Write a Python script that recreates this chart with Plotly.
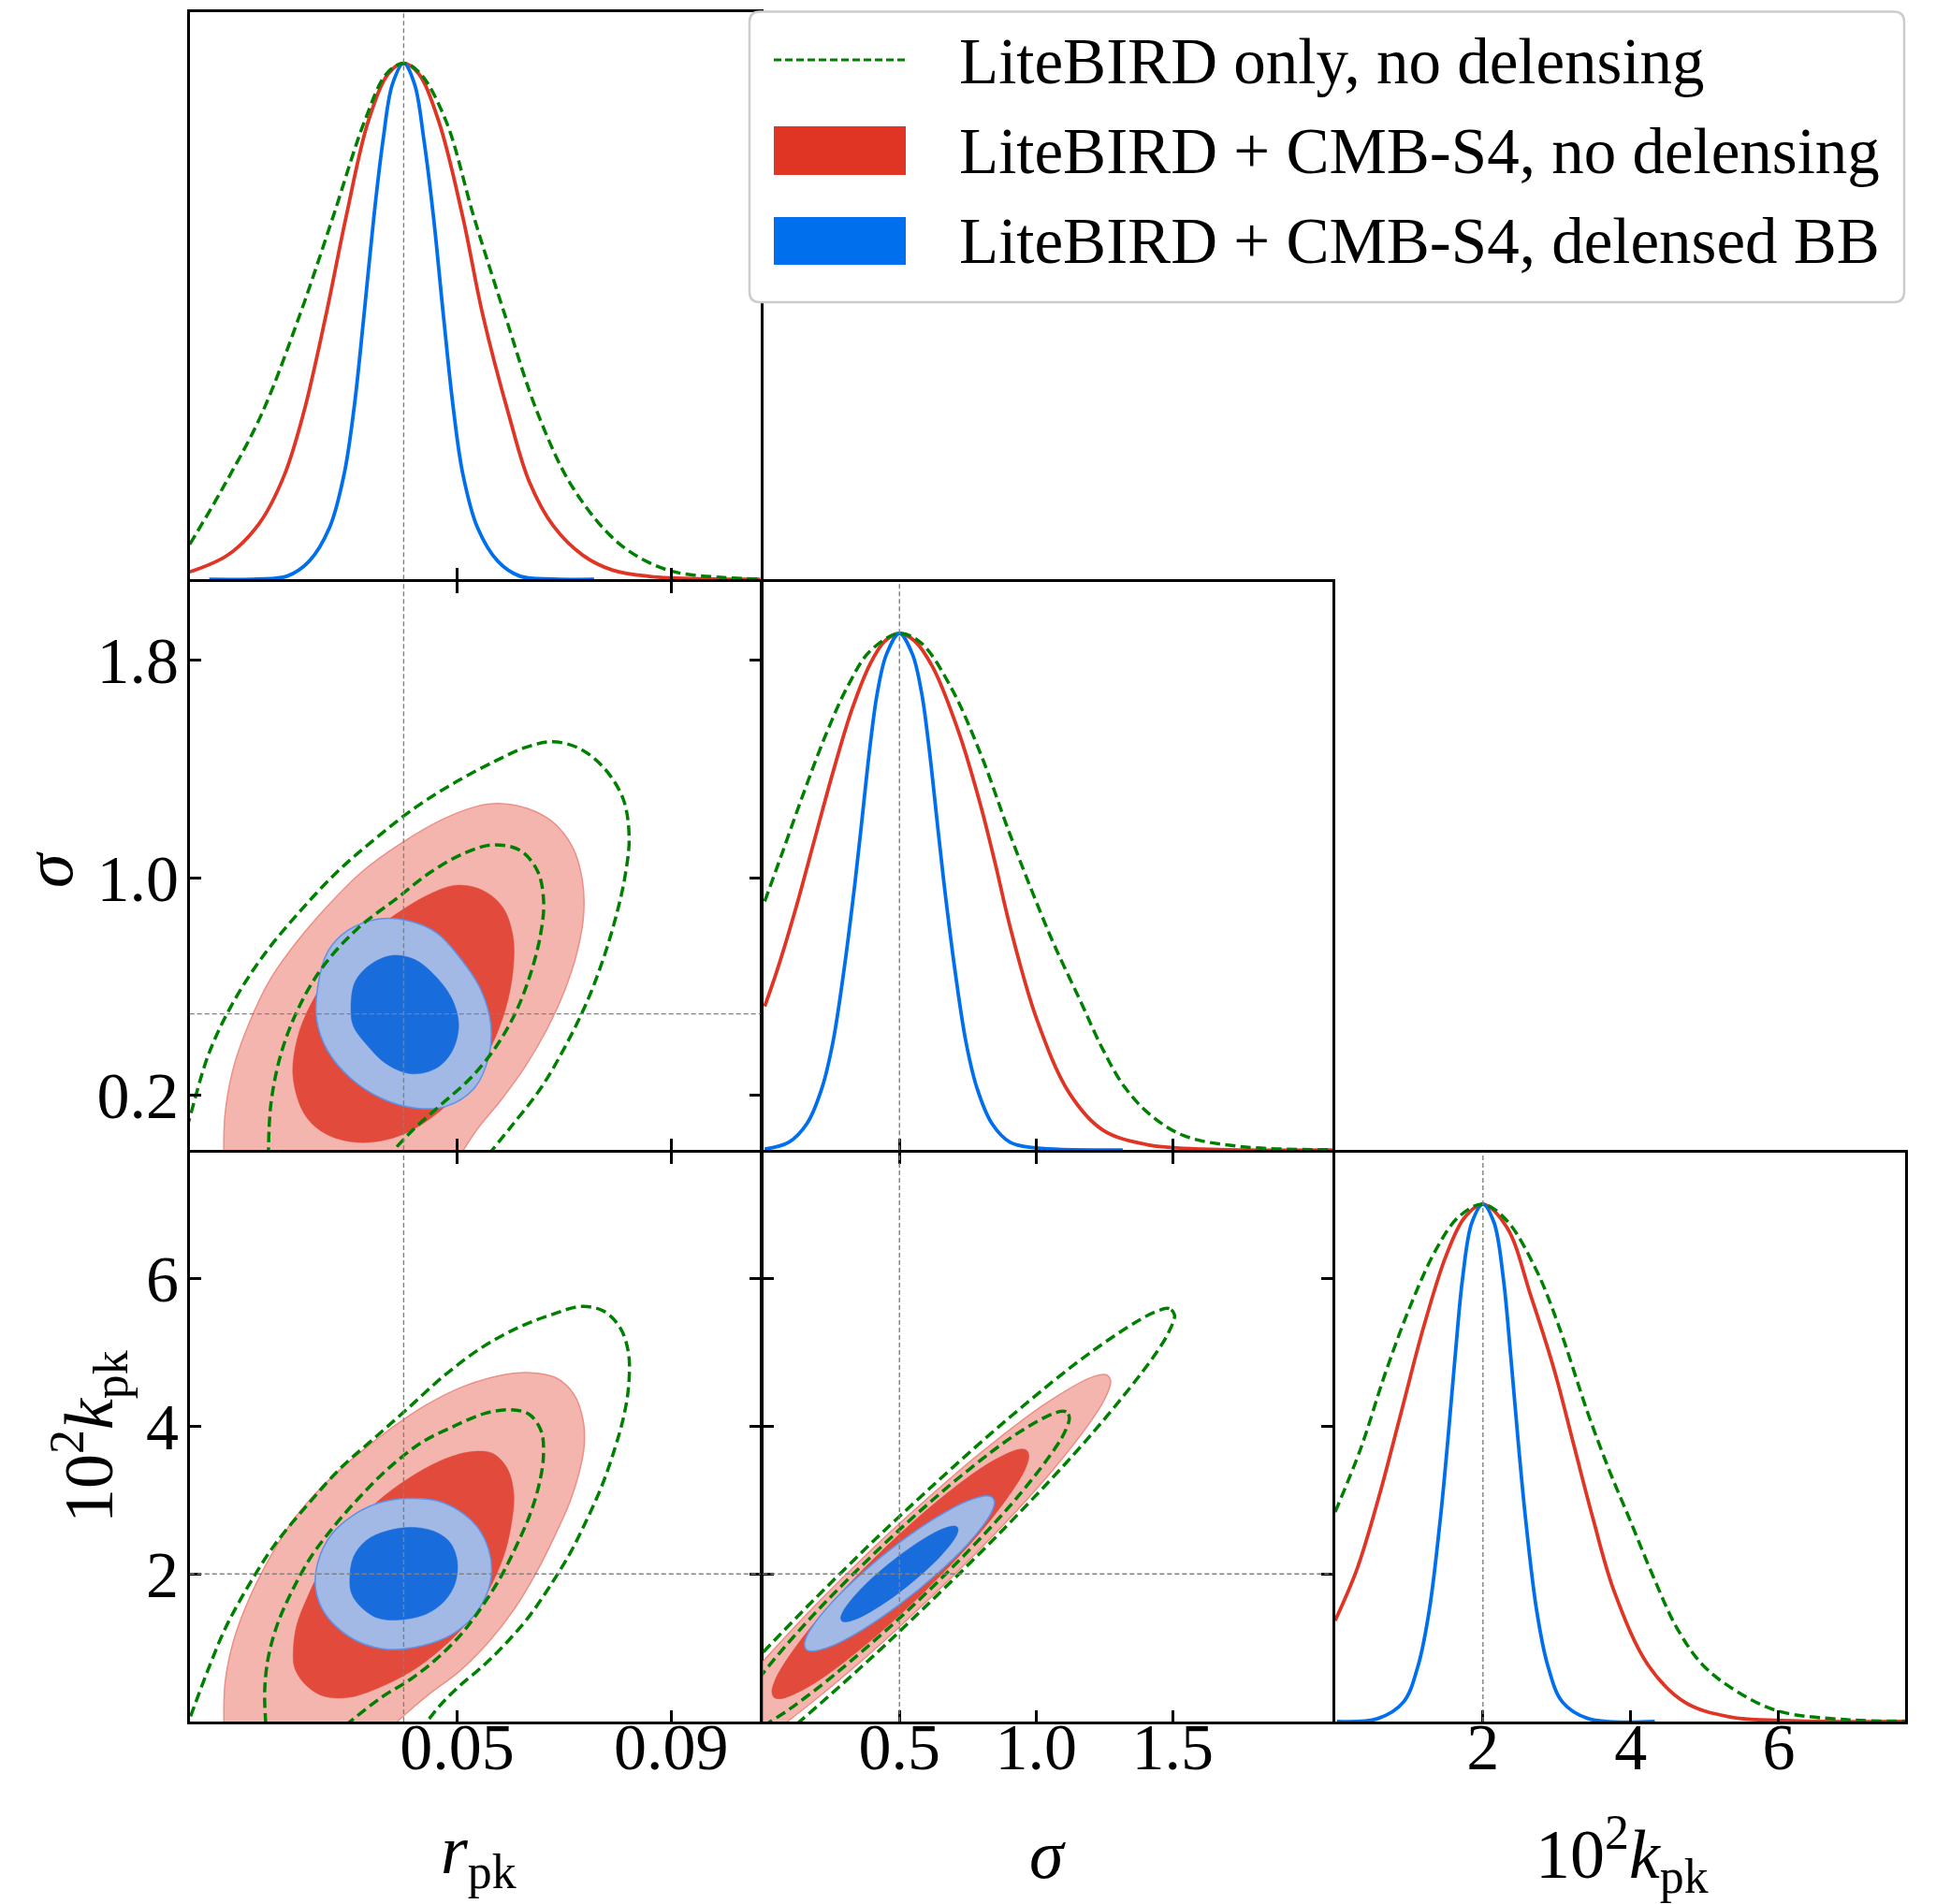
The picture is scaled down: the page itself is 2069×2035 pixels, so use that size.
import plotly.graph_objects as go

PAGE_W, PAGE_H = 2069, 2035
OFF = 8  # default body margin of the html page
W, H = PAGE_W - OFF, PAGE_H - OFF
FONT = "Liberation Serif"

# ---------------- data ----------------
LABEL_GREEN = "LiteBIRD only, no delensing"
LABEL_RED = "LiteBIRD + CMB-S4, no delensing"
LABEL_BLUE = "LiteBIRD + CMB-S4, delensed BB"

LABEL_R = "<i>r</i><sub>pk</sub>"
LABEL_SIGMA = "<i>σ</i>"
LABEL_K = "10<sup>2</sup><i>k</i><sub>pk</sub>"

FIDUCIAL_R = 0.04
FIDUCIAL_SIGMA = 0.5
FIDUCIAL_K = 2.0

R_RANGE = [0.0, 0.1067]
SIGMA_RANGE = [0.0, 2.086]
K_RANGE = [0.0, 7.71]
PDF_RANGE = [0.0, 1.1]

R_TICKS = [0.05, 0.09]
R_TICK_TEXT = ["0.05", "0.09"]
SIGMA_X_TICKS = [0.5, 1.0, 1.5]
SIGMA_X_TICK_TEXT = ["0.5", "1.0", "1.5"]
SIGMA_Y_TICKS = [0.2, 1.0, 1.8]
SIGMA_Y_TICK_TEXT = ["0.2", "1.0", "1.8"]
K_TICKS = [2, 4, 6]
K_TICK_TEXT = ["2", "4", "6"]

# ---- 1D marginals (normalised to peak 1) ----
R_BLUE_X = [0.00364, 0.0125, 0.01817, 0.02232, 0.02613, 0.02889, 0.03076, 0.03256, 0.03443, 0.03616, 0.03789, 0.04,
            0.04204, 0.04377, 0.04557, 0.04744, 0.04924, 0.05104, 0.05381, 0.05761, 0.06176, 0.068, 0.0756]
R_BLUE_Y = [0.0, 0.0006, 0.006, 0.035, 0.1, 0.205, 0.335, 0.51, 0.7026, 0.8524, 0.9593, 1.0,
            0.9593, 0.8524, 0.7026, 0.51, 0.335, 0.205, 0.1, 0.035, 0.006, 0.0006, 0.0]
R_RED_X = [0.0, 0.0071, 0.01298, 0.01761, 0.02128, 0.02543, 0.02924, 0.03339, 0.0372, 0.04, 0.04273, 0.04654,
           0.05104, 0.05484, 0.05969, 0.06349, 0.06799, 0.07353, 0.07906, 0.08598, 0.09636, 0.1067]
R_RED_Y = [0.0143, 0.047, 0.108, 0.2, 0.322, 0.51, 0.7026, 0.888, 0.9807, 1.0, 0.9807, 0.888,
           0.7026, 0.51, 0.3174, 0.189, 0.1034, 0.0464, 0.0178, 0.0057, 0.0007, 0.0]
R_GREEN_X = [0.0, 0.00606, 0.01332, 0.0205, 0.0268, 0.0327, 0.03685, 0.04, 0.04308, 0.04792, 0.05311, 0.059,
             0.06522, 0.0718, 0.08045, 0.08944, 0.09982, 0.1067]
R_GREEN_Y = [0.0678, 0.1748, 0.3174, 0.51, 0.7026, 0.888, 0.9807, 1.0, 0.9807, 0.888, 0.7026, 0.51,
             0.3174, 0.1748, 0.0678, 0.0178, 0.0036, 0.0007]

S_BLUE_X = [0.0068, 0.0946, 0.1622, 0.2162, 0.2568, 0.2973, 0.3378, 0.3649, 0.3919, 0.4189, 0.4527, 0.5,
            0.5473, 0.5811, 0.6081, 0.6351, 0.6622, 0.7027, 0.7432, 0.7838, 0.8378, 0.9054, 1.0, 1.3176]
S_BLUE_Y = [0.002, 0.015, 0.052, 0.12, 0.21, 0.35, 0.52, 0.65, 0.78, 0.885, 0.96, 1.0,
            0.96, 0.885, 0.78, 0.65, 0.52, 0.35, 0.21, 0.12, 0.052, 0.015, 0.004, 0.0]
S_RED_X = [0.0067, 0.054, 0.1216, 0.1892, 0.2568, 0.3243, 0.3919, 0.4459, 0.5, 0.5541, 0.6216, 0.7162,
           0.7973, 0.8514, 0.9054, 1.0027, 1.1216, 1.2433, 1.4054, 1.6081, 2.086]
S_RED_Y = [0.2782, 0.3509, 0.47, 0.6013, 0.7318, 0.8502, 0.9401, 0.985, 1.0, 0.986, 0.935, 0.81,
           0.667, 0.553, 0.4315, 0.2532, 0.1106, 0.0392, 0.0107, 0.0021, 0.0]
S_GREEN_X = [0.0067, 0.0676, 0.1486, 0.2297, 0.3108, 0.3919, 0.5, 0.5811, 0.6892, 0.7973, 0.9054, 1.0,
             1.0676, 1.1622, 1.2433, 1.3243, 1.4189, 1.5405, 1.7432, 2.086]
S_GREEN_Y = [0.4815, 0.5704, 0.6903, 0.8031, 0.898, 0.9655, 1.0, 0.9807, 0.8951, 0.7668, 0.6098, 0.4815,
             0.3959, 0.2889, 0.1961, 0.122, 0.068, 0.028, 0.0071, 0.0007]

K_BLUE_X = [0.025, 0.575, 0.925, 1.125, 1.275, 1.425, 1.525, 1.625, 1.725, 1.85, 2.0,
            2.15, 2.275, 2.375, 2.475, 2.575, 2.725, 2.875, 3.075, 3.425, 4.325]
K_BLUE_Y = [0.0, 0.0057, 0.0378, 0.109, 0.216, 0.394, 0.5438, 0.7078, 0.8574, 0.9644, 1.0,
            0.9644, 0.8574, 0.7078, 0.5438, 0.394, 0.216, 0.109, 0.0378, 0.0057, 0.0]
K_RED_X = [0.0, 0.3, 0.6, 0.9, 1.2, 1.5, 1.75, 2.0, 2.325, 2.65, 2.965, 3.225, 3.485, 3.775, 4.235,
           4.725, 5.325, 6.175, 7.71]
K_RED_Y = [0.195, 0.296, 0.438, 0.601, 0.764, 0.9, 0.974, 1.0, 0.955, 0.8218, 0.6793, 0.5367, 0.3942,
           0.2516, 0.109, 0.0378, 0.0093, 0.0014, 0.0]
K_GREEN_X = [0.0, 0.35, 0.675, 1.025, 1.375, 1.675, 2.0, 2.325, 2.725, 3.025, 3.425, 3.725, 3.975, 4.325,
             4.625, 4.975, 5.425, 6.0, 6.925, 7.71]
K_GREEN_Y = [0.4048, 0.529, 0.6716, 0.806, 0.915, 0.976, 1.0, 0.968, 0.8717, 0.7648, 0.5937, 0.4797,
             0.3942, 0.273, 0.1803, 0.109, 0.0592, 0.02, 0.0036, 0.0007]

# ---- 2D contours: r_pk vs sigma ----
RS_GREEN_OUTER_R = [-0.003, -0.0005, 0.00363, 0.00824, 0.01379, 0.02025, 0.02764, 0.03503, 0.04242, 0.04982,
                    0.05721, 0.06275, 0.06783, 0.07291, 0.07753, 0.08104, 0.08215, 0.08141, 0.07984, 0.07753,
                    0.0743, 0.07014, 0.06552, 0.05998, 0.05536]
RS_GREEN_OUTER_S = [-0.081, 0.0837, 0.3569, 0.546, 0.7142, 0.8683, 1.0224, 1.1485, 1.2606, 1.3517,
                    1.4287, 1.4778, 1.4988, 1.4736, 1.4007, 1.2886, 1.1485, 1.0084, 0.8683, 0.7142,
                    0.546, 0.3779, 0.2238, 0.0837, -0.0284]
RS_GREEN_INNER_R = [0.01471, 0.01517, 0.01702, 0.02025, 0.02487, 0.03134, 0.03873, 0.0452, 0.05166, 0.05674,
                    0.06182, 0.06506, 0.06617, 0.06552, 0.06367, 0.0609, 0.05721, 0.05259, 0.04704, 0.0415,
                    0.03688]
RS_GREEN_INNER_S = [-0.0284, 0.1677, 0.3499, 0.518, 0.6721, 0.8123, 0.9243, 1.0224, 1.0925, 1.1205,
                    1.0995, 1.0224, 0.9103, 0.7842, 0.6441, 0.504, 0.3779, 0.2658, 0.1677, 0.0697,
                    -0.0284]
RS_RED_OUTER_R = [0.0064, 0.00658, 0.00806, 0.01102, 0.01517, 0.02025, 0.0258, 0.03226, 0.03965, 0.04704,
                  0.05351, 0.05813, 0.06321, 0.06783, 0.07152, 0.07337, 0.07365, 0.07245, 0.07014, 0.06691,
                  0.06275, 0.05813, 0.05351, 0.04982, 0.048, 0.007]
RS_RED_OUTER_S = [-0.0564, 0.1257, 0.2938, 0.462, 0.6301, 0.7702, 0.8963, 1.0224, 1.1275, 1.2116,
                  1.2606, 1.2718, 1.2536, 1.2046, 1.1135, 0.9944, 0.8683, 0.7282, 0.5881, 0.448,
                  0.3078, 0.1818, 0.0697, -0.0564, -0.3, -0.3]
RS_RED_INNER_R = [0.01933, 0.02007, 0.02256, 0.02672, 0.03226, 0.03873, 0.04473, 0.04982, 0.0549, 0.05859,
                  0.06044, 0.06044, 0.05905, 0.05628, 0.05212, 0.04658, 0.03965, 0.03226, 0.0258, 0.02164,
                  0.01933]
RS_RED_INNER_S = [0.2658, 0.4059, 0.532, 0.6581, 0.7702, 0.8683, 0.9384, 0.972, 0.9524, 0.8893,
                  0.7842, 0.6581, 0.518, 0.3779, 0.2518, 0.1397, 0.0557, 0.0276, 0.0557, 0.1257,
                  0.2658]
RS_BLUE_OUTER_R = [0.02376, 0.02395, 0.0258, 0.02949, 0.03503, 0.04058, 0.04612, 0.05074, 0.05443, 0.05628,
                   0.05582, 0.05305, 0.04797, 0.04242, 0.03596, 0.02995, 0.0258, 0.02376]
RS_BLUE_OUTER_S = [0.476, 0.6021, 0.7282, 0.8052, 0.8473, 0.8431, 0.7982, 0.7002, 0.5881, 0.462,
                   0.3359, 0.2238, 0.1607, 0.1537, 0.1888, 0.2658, 0.3639, 0.476]
RS_BLUE_INNER_R = [0.03014, 0.03088, 0.03365, 0.03781, 0.04196, 0.04566, 0.04889, 0.05028, 0.04908, 0.04612,
                   0.0415, 0.03688, 0.03319, 0.0306, 0.03014]
RS_BLUE_INNER_S = [0.518, 0.6161, 0.6791, 0.7142, 0.7002, 0.6441, 0.5601, 0.462, 0.3639, 0.3008,
                   0.2798, 0.3149, 0.3849, 0.455, 0.518]

# ---- 2D contours: r_pk vs 10^2 k_pk ----
RK_GREEN_OUTER_R = [-0.00086, 0.00018, 0.00329, 0.00675, 0.0109, 0.01575, 0.02197, 0.0282, 0.03443, 0.04066,
                    0.04758, 0.0545, 0.06142, 0.06765, 0.07318, 0.07733, 0.08045, 0.08204, 0.08204, 0.08114,
                    0.07941, 0.07699, 0.07422, 0.07111, 0.0673, 0.06349, 0.05934, 0.05519, 0.05035, 0.04689,
                    0.04412]
RK_GREEN_OUTER_K = [-0.125, 0.0752, 0.6767, 1.2782, 1.8296, 2.381, 2.9323, 3.4336, 3.8346, 4.2356,
                    4.6867, 5.0626, 5.3383, 5.5138, 5.624, 5.5639, 5.3383, 4.9875, 4.5363, 4.1353,
                    3.6842, 3.183, 2.7318, 2.2807, 1.8296, 1.4286, 1.0777, 0.7769, 0.4762, 0.2256,
                    -0.025]
RK_GREEN_INNER_R = [0.01422, 0.01402, 0.01471, 0.01644, 0.01921, 0.02267, 0.02682, 0.03166, 0.0372, 0.04343,
                    0.04965, 0.05519, 0.06003, 0.06349, 0.06571, 0.06612, 0.06522, 0.06349, 0.06107, 0.0583,
                    0.05484, 0.05069, 0.04619, 0.04135, 0.03581, 0.02959]
RK_GREEN_INNER_K = [-0.025, 0.4261, 0.8772, 1.3283, 1.7794, 2.2306, 2.6316, 3.0326, 3.4336, 3.7845,
                    4.01, 4.1754, 4.2256, 4.1604, 3.9348, 3.584, 3.183, 2.782, 2.381, 1.98,
                    1.5789, 1.1779, 0.8521, 0.5764, 0.3258, -0.025]
RK_RED_OUTER_R = [0.0064, 0.00661, 0.00813, 0.0109, 0.01505, 0.0199, 0.02543, 0.03166, 0.03789, 0.04412,
                  0.05104, 0.05796, 0.06349, 0.06834, 0.0718, 0.07353, 0.07374, 0.07284, 0.07111, 0.06834,
                  0.06488, 0.06073, 0.05588, 0.05035, 0.04481, 0.03997, 0.03858, 0.036, 0.008]
RK_RED_OUTER_K = [-0.025, 0.5263, 1.0777, 1.6291, 2.2306, 2.782, 3.2331, 3.6341, 3.985, 4.2857,
                  4.5363, 4.6867, 4.7268, 4.6616, 4.4361, 4.0852, 3.7343, 3.3835, 2.9825, 2.5313,
                  2.0301, 1.5288, 1.0777, 0.6767, 0.3759, 0.0752, -0.025, -0.4, -0.4]
RK_RED_INNER_R = [0.01934, 0.0199, 0.02197, 0.02543, 0.02959, 0.03512, 0.04066, 0.04689, 0.05242, 0.05657,
                  0.05934, 0.06059, 0.06003, 0.05865, 0.05588, 0.05173, 0.04689, 0.04135, 0.03512, 0.02959,
                  0.02474, 0.02128, 0.01962, 0.01934]
RK_RED_INNER_K = [0.8772, 1.2782, 1.6792, 2.1805, 2.5815, 2.9825, 3.2832, 3.5338, 3.6541, 3.6341,
                  3.4336, 3.0827, 2.6316, 2.2306, 1.7794, 1.3283, 0.9775, 0.6767, 0.4511, 0.3258,
                  0.3509, 0.5263, 0.7268, 0.8772]
RK_BLUE_OUTER_R = [0.0235, 0.02405, 0.02647, 0.03028, 0.03512, 0.04066, 0.04619, 0.05035, 0.05381, 0.05588,
                   0.05644, 0.05554, 0.05311, 0.04896, 0.04343, 0.0372, 0.03166, 0.02751, 0.02474, 0.0235]
RK_BLUE_OUTER_K = [1.8296, 2.1805, 2.5313, 2.782, 2.9574, 3.0226, 2.9925, 2.8571, 2.6316, 2.3308,
                   2.0301, 1.7293, 1.4286, 1.1779, 1.0276, 0.9775, 1.0777, 1.2782, 1.5288, 1.8296]
RK_BLUE_INNER_R = [0.02993, 0.03062, 0.03305, 0.03685, 0.04135, 0.0455, 0.04862, 0.05, 0.04965, 0.04758,
                   0.04412, 0.03927, 0.03512, 0.03201, 0.03028, 0.02993]
RK_BLUE_INNER_K = [1.9298, 2.2306, 2.4561, 2.5815, 2.6316, 2.5815, 2.4311, 2.1805, 1.8797, 1.6291,
                   1.4536, 1.3784, 1.4035, 1.5539, 1.7293, 1.9298]

# ---- 2D contours: sigma vs 10^2 k_pk ----
SK_GREEN_OUTER_S = [1.507, 1.4877, 1.4304, 1.212, 0.8854, 0.5, 0.3035, 0.1146, -0.0595, -0.212, -0.507,
                    -0.212, -0.0595, 0.1146, 0.3035, 0.5, 0.8854, 1.212, 1.4304, 1.4877, 1.507]
SK_GREEN_OUTER_K = [5.51, 5.5948, 5.5414, 5.0334, 4.0639, 2.78, 2.0802, 1.3773, 0.6984, 0.0696, -1.51,
                    -1.0334, -0.5988, -0.0639, 0.5502, 1.22, 2.6227, 3.9304, 4.9444, 5.2904, 5.51]
SK_GREEN_INNER_S = [1.122, 1.1101, 1.0747, 0.9398, 0.738, 0.5, 0.262, 0.1544, 0.0602, -0.0172, -0.0747,
                    -0.122, -0.0747, 0.0602, 0.1544, 0.262, 0.5, 0.738, 0.9398, 1.0747, 1.1101, 1.122]
SK_GREEN_INNER_K = [4.12, 4.1964, 4.1883, 3.9234, 3.3656, 2.6, 1.743, 1.321, 0.9252, 0.5706, 0.2709,
                    -0.12, -0.1883, 0.0766, 0.3232, 0.6344, 1.4, 2.257, 3.0748, 3.7291, 3.9622, 4.12]
SK_RED_OUTER_S = [1.273, 1.2583, 1.2146, 1.0481, 0.7989, 0.505, 0.3552, 0.2111, 0.0783, -0.0381, -0.2046,
                  -0.263, -0.2046, -0.0381, 0.0783, 0.2111, 0.3552, 0.505, 0.7989, 1.0481, 1.2146, 1.2583,
                  1.273]
SK_RED_OUTER_K = [4.61, 4.6965, 4.6793, 4.3405, 3.6455, 2.7, 2.1774, 1.6479, 1.1319, 0.6495, -0.1435,
                  -0.61, -0.6793, -0.3405, -0.0321, 0.3545, 0.8042, 1.3, 2.3521, 3.3505, 4.1435, 4.4233,
                  4.61]
SK_RED_INNER_S = [0.974, 0.965, 0.9382, 0.8362, 0.6836, 0.5035, 0.3234, 0.1708, 0.0688, 0.042, 0.033,
                  0.042, 0.0688, 0.1708, 0.3234, 0.5035, 0.6836, 0.8362, 0.9382, 0.965, 0.974]
SK_RED_INNER_K = [3.6, 3.6766, 3.6887, 3.5203, 3.1204, 2.55, 1.8958, 1.2575, 0.7323, 0.538, 0.4,
                  0.3234, 0.3113, 0.4797, 0.8796, 1.45, 2.1042, 2.7425, 3.2677, 3.462, 3.6]
SK_BLUE_OUTER_S = [0.848, 0.8413, 0.8215, 0.7461, 0.6332, 0.5, 0.3668, 0.2539, 0.1785, 0.1587, 0.152,
                   0.1587, 0.1785, 0.2539, 0.3668, 0.5, 0.6332, 0.7461, 0.8215, 0.8413, 0.848]
SK_BLUE_OUTER_K = [2.97, 3.0334, 3.0573, 2.9844, 2.7623, 2.425, 2.0237, 1.6196, 1.2741, 1.1404, 1.04,
                   0.9766, 0.9527, 1.0256, 1.2477, 1.585, 1.9863, 2.3904, 2.7359, 2.8696, 2.97]
SK_BLUE_INNER_S = [0.715, 0.7109, 0.6986, 0.652, 0.5823, 0.5, 0.4177, 0.348, 0.3014, 0.2891, 0.285,
                   0.2891, 0.3014, 0.348, 0.4177, 0.5, 0.5823, 0.652, 0.6986, 0.7109, 0.715]
SK_BLUE_INNER_K = [2.6, 2.6373, 2.65, 2.6011, 2.4606, 2.25, 2.0014, 1.7525, 1.5414, 1.4603, 1.4,
                   1.3627, 1.35, 1.3989, 1.5394, 1.75, 1.9986, 2.2475, 2.4586, 2.5397, 2.6]

# ---------------- styles ----------------
GREEN = "#008000"
RED = "#E03424"
BLUE = "#006FED"
RED_DARK_FILL = "#E24A3C"
RED_LIGHT_FILL = "#F4B5AE"
RED_LIGHT_EDGE = "#EC8F86"
BLUE_DARK_FILL = "#186CDB"
BLUE_LIGHT_FILL = "#A1B9E4"
BLUE_LIGHT_EDGE = "#5E92E6"
FID_COLOR = "#808080"
GREEN_DASH = "11px,5.5px"
FID_DASH = "5px,3px"
LINE_W = 3.8
GREEN_W = 3.5
FRAME_W = 2.6

# panel boundaries (centre of the frame lines) in page pixels
COLS = [202.75, 814.0, 1425.5, 2036.0]
ROWS = [12.5, 620.5, 1230.5, 1840.0]


def X(p):
    return (p - OFF) / W


def Y(p):
    return 1 - (p - OFF) / H


def xdom(c):
    a = COLS[c] + (FRAME_W / 2 if c > 0 else 0)
    b = COLS[c + 1] - (FRAME_W / 2 if c + 1 < 3 else 0)
    return [X(a), X(b)]


def ydom(r):
    top = ROWS[r] + (FRAME_W / 2 if r > 0 else 0)
    bot = ROWS[r + 1] - (FRAME_W / 2 if r + 1 < 3 else 0)
    return [Y(bot), Y(top)]


fig = go.Figure()


def ax_names(i):
    return ("x" if i == 1 else f"x{i}"), ("y" if i == 1 else f"y{i}")


def add_line(x, y, color, width, ax, name, dash=None, smoothing=1.0):
    xa, ya = ax_names(ax)
    fig.add_trace(go.Scatter(x=x, y=y, mode="lines", name=name, showlegend=False, hoverinfo="skip",
                             line=dict(color=color, width=width, dash=dash, shape="spline", smoothing=smoothing),
                             xaxis=xa, yaxis=ya))


def add_fill(x, y, fillcolor, linecolor, width, ax, name):
    xa, ya = ax_names(ax)
    fig.add_trace(go.Scatter(x=x, y=y, mode="lines", name=name, showlegend=False, hoverinfo="skip",
                             fill="toself", fillcolor=fillcolor,
                             line=dict(color=linecolor, width=width, shape="spline", smoothing=1.0),
                             xaxis=xa, yaxis=ya))


# 1D panels: ax1 (r), ax3 (sigma), ax6 (k)
for ax, (gx, gy, rx, ry, bx, by) in {
    1: (R_GREEN_X, R_GREEN_Y, R_RED_X, R_RED_Y, R_BLUE_X, R_BLUE_Y),
    3: (S_GREEN_X, S_GREEN_Y, S_RED_X, S_RED_Y, S_BLUE_X, S_BLUE_Y),
    6: (K_GREEN_X, K_GREEN_Y, K_RED_X, K_RED_Y, K_BLUE_X, K_BLUE_Y),
}.items():
    add_line(rx, ry, RED, LINE_W, ax, LABEL_RED)
    add_line(bx, by, BLUE, LINE_W, ax, LABEL_BLUE)
    add_line(gx, gy, GREEN, GREEN_W, ax, LABEL_GREEN, GREEN_DASH)

# 2D panels: ax2 (r-sigma), ax4 (r-k), ax5 (sigma-k)
panels2d = {
    2: dict(ro=(RS_RED_OUTER_R, RS_RED_OUTER_S), ri=(RS_RED_INNER_R, RS_RED_INNER_S),
            bo=(RS_BLUE_OUTER_R, RS_BLUE_OUTER_S), bi=(RS_BLUE_INNER_R, RS_BLUE_INNER_S),
            gi=(RS_GREEN_INNER_R, RS_GREEN_INNER_S), go_=(RS_GREEN_OUTER_R, RS_GREEN_OUTER_S)),
    4: dict(ro=(RK_RED_OUTER_R, RK_RED_OUTER_K), ri=(RK_RED_INNER_R, RK_RED_INNER_K),
            bo=(RK_BLUE_OUTER_R, RK_BLUE_OUTER_K), bi=(RK_BLUE_INNER_R, RK_BLUE_INNER_K),
            gi=(RK_GREEN_INNER_R, RK_GREEN_INNER_K), go_=(RK_GREEN_OUTER_R, RK_GREEN_OUTER_K)),
    5: dict(ro=(SK_RED_OUTER_S, SK_RED_OUTER_K), ri=(SK_RED_INNER_S, SK_RED_INNER_K),
            bo=(SK_BLUE_OUTER_S, SK_BLUE_OUTER_K), bi=(SK_BLUE_INNER_S, SK_BLUE_INNER_K),
            gi=(SK_GREEN_INNER_S, SK_GREEN_INNER_K), go_=(SK_GREEN_OUTER_S, SK_GREEN_OUTER_K)),
}
for ax, d in panels2d.items():
    add_fill(*d["ro"], RED_LIGHT_FILL, RED_LIGHT_EDGE, 1.5, ax, LABEL_RED)
    add_fill(*d["ri"], RED_DARK_FILL, RED_DARK_FILL, 0.5, ax, LABEL_RED)
    add_fill(*d["bo"], BLUE_LIGHT_FILL, BLUE_LIGHT_EDGE, 1.5, ax, LABEL_BLUE)
    add_fill(*d["bi"], BLUE_DARK_FILL, BLUE_DARK_FILL, 0.5, ax, LABEL_BLUE)
    add_line(*d["gi"], GREEN, GREEN_W, ax, LABEL_GREEN, GREEN_DASH)
    add_line(*d["go_"], GREEN, GREEN_W, ax, LABEL_GREEN, GREEN_DASH)


def axis(rng, dom, anchor, tickvals=None, ticktext=None, labels=False, mirror="ticks", ticks="inside",
         standoff=0):
    a = dict(domain=dom, range=rng, anchor=anchor, showline=True, linecolor="black", linewidth=FRAME_W,
             mirror=mirror, ticks=ticks, ticklen=12, tickwidth=2.5, tickcolor="black",
             showgrid=False, zeroline=False, showticklabels=labels, fixedrange=True,
             tickfont=dict(family=FONT, size=70, color="black"), ticklabelstandoff=standoff)
    if tickvals is not None:
        a.update(tickmode="array", tickvals=tickvals, ticktext=ticktext)
    return a


XSO = -36  # x tick label standoff
YSO = -5   # y tick label standoff
pdf_y = dict(mirror=True, ticks="", labels=False)
layout_axes = dict(
    # r 1D
    xaxis=axis(R_RANGE, xdom(0), "y", R_TICKS, R_TICK_TEXT, mirror=True),
    yaxis=axis(PDF_RANGE, ydom(0), "x", **pdf_y),
    # r - sigma
    xaxis2=axis(R_RANGE, xdom(0), "y2", R_TICKS, R_TICK_TEXT),
    yaxis2=axis(SIGMA_RANGE, ydom(1), "x2", SIGMA_Y_TICKS, SIGMA_Y_TICK_TEXT, labels=True, standoff=YSO),
    # sigma 1D
    xaxis3=axis(SIGMA_RANGE, xdom(1), "y3", SIGMA_X_TICKS, SIGMA_X_TICK_TEXT, mirror=True),
    yaxis3=axis(PDF_RANGE, ydom(1), "x3", **pdf_y),
    # r - k
    xaxis4=axis(R_RANGE, xdom(0), "y4", R_TICKS, R_TICK_TEXT, labels=True, standoff=XSO),
    yaxis4=axis(K_RANGE, ydom(2), "x4", K_TICKS, K_TICK_TEXT, labels=True, standoff=YSO),
    # sigma - k
    xaxis5=axis(SIGMA_RANGE, xdom(1), "y5", SIGMA_X_TICKS, SIGMA_X_TICK_TEXT, labels=True, standoff=XSO),
    yaxis5=axis(K_RANGE, ydom(2), "x5", K_TICKS, K_TICK_TEXT),
    # k 1D
    xaxis6=axis(K_RANGE, xdom(2), "y6", K_TICKS, K_TICK_TEXT, labels=True, mirror=True, standoff=XSO),
    yaxis6=axis(PDF_RANGE, ydom(2), "x6", **pdf_y),
)

shapes = []
fid_line = dict(color=FID_COLOR, width=1.4, dash=FID_DASH)
for ax in (1, 2, 4):
    xa, ya = ax_names(ax)
    shapes.append(dict(type="line", xref=xa, yref=f"{ya} domain", x0=FIDUCIAL_R, x1=FIDUCIAL_R, y0=0, y1=1,
                       line=fid_line, layer="above"))
for ax in (3, 5):
    xa, ya = ax_names(ax)
    shapes.append(dict(type="line", xref=xa, yref=f"{ya} domain", x0=FIDUCIAL_SIGMA, x1=FIDUCIAL_SIGMA,
                       y0=0, y1=1, line=fid_line, layer="above"))
shapes.append(dict(type="line", xref="x6", yref="y6 domain", x0=FIDUCIAL_K, x1=FIDUCIAL_K, y0=0, y1=1,
                   line=fid_line, layer="above"))
shapes.append(dict(type="line", xref="x2 domain", yref="y2", x0=0, x1=1, y0=FIDUCIAL_SIGMA, y1=FIDUCIAL_SIGMA,
                   line=fid_line, layer="above"))
for ax in (4, 5):
    xa, ya = ax_names(ax)
    shapes.append(dict(type="line", xref=f"{xa} domain", yref=ya, x0=0, x1=1, y0=FIDUCIAL_K, y1=FIDUCIAL_K,
                       line=fid_line, layer="above"))

# legend box (rounded), page pixel positions
x0, x1, y0, y1, rr = 801.0, 2035.0, 12.5, 323.0, 11.0
path = (f"M {X(x0 + rr)},{Y(y0)} L {X(x1 - rr)},{Y(y0)} Q {X(x1)},{Y(y0)} {X(x1)},{Y(y0 + rr)} "
        f"L {X(x1)},{Y(y1 - rr)} Q {X(x1)},{Y(y1)} {X(x1 - rr)},{Y(y1)} "
        f"L {X(x0 + rr)},{Y(y1)} Q {X(x0)},{Y(y1)} {X(x0)},{Y(y1 - rr)} "
        f"L {X(x0)},{Y(y0 + rr)} Q {X(x0)},{Y(y0)} {X(x0 + rr)},{Y(y0)} Z")
shapes.append(dict(type="path", xref="paper", yref="paper", path=path, fillcolor="white",
                   line=dict(color="#CCCCCC", width=2.5), layer="above"))
shapes.append(dict(type="line", xref="paper", yref="paper", x0=X(827), x1=X(968), y0=Y(64), y1=Y(64),
                   line=dict(color=GREEN, width=3, dash="8px,4px"), layer="above"))
shapes.append(dict(type="rect", xref="paper", yref="paper", x0=X(827), x1=X(968), y0=Y(187), y1=Y(135),
                   fillcolor=RED, line=dict(width=0), layer="above"))
shapes.append(dict(type="rect", xref="paper", yref="paper", x0=X(827), x1=X(968), y0=Y(283), y1=Y(232),
                   fillcolor=BLUE, line=dict(width=0), layer="above"))

annotations = []
for label, yc in ((LABEL_GREEN, 66), (LABEL_RED, 162), (LABEL_BLUE, 258)):
    annotations.append(dict(text=label, xref="paper", yref="paper", x=X(1023), y=Y(yc), xanchor="left",
                            yanchor="middle", showarrow=False, font=dict(family=FONT, size=69, color="black")))

title_font = dict(family=FONT, size=74, color="black")
for label, xc in ((LABEL_R, 511), (LABEL_SIGMA, 1119), (LABEL_K, 1733)):
    annotations.append(dict(text=label, xref="paper", yref="paper", x=X(xc), y=Y(1982), xanchor="center",
                            yanchor="middle", showarrow=False, font=title_font))
for label, xc, yc in ((LABEL_SIGMA, 52, 930), (LABEL_K, 95, 1536)):
    annotations.append(dict(text=label, xref="paper", yref="paper", x=X(xc), y=Y(yc), xanchor="center",
                            yanchor="middle", textangle=-90, showarrow=False, font=title_font))

fig.update_layout(
    width=W, height=H, margin=dict(l=0, r=0, t=0, b=0, autoexpand=False),
    paper_bgcolor="white", plot_bgcolor="white",
    font=dict(family=FONT, color="black"),
    showlegend=False, shapes=shapes, annotations=annotations,
    **layout_axes,
)

fig.write_html("out.html")
